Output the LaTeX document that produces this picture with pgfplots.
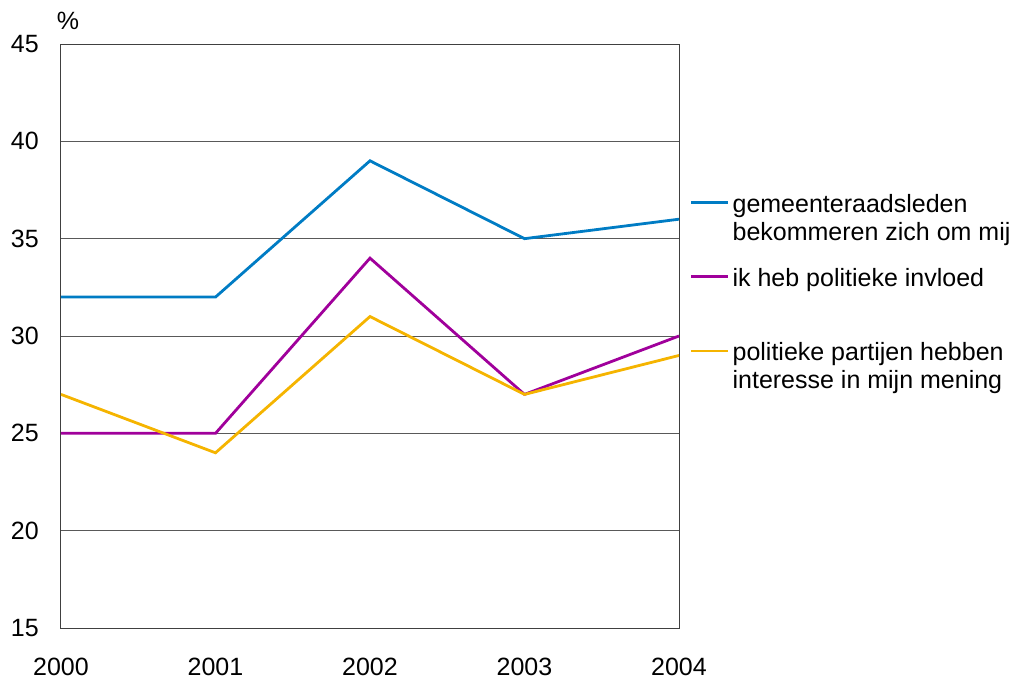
\documentclass[border=0pt]{standalone}
\usepackage{fontspec}
\setmainfont{Liberation Sans}
\usepackage{pgfplots}
\pgfplotsset{compat=1.18}
\definecolor{cblue}{RGB}{0,124,196}
\definecolor{cpurple}{RGB}{160,0,155}
\definecolor{corange}{RGB}{245,180,0}
\begin{document}
\begin{tikzpicture}
\begin{axis}[
  scale only axis,
  width=618pt, height=584pt,
  xmin=2000, xmax=2004, ymin=15, ymax=45,
  xtick={2000,2001,2002,2003,2004},
  ytick={15,20,25,30,35,40,45},
  xticklabels={2000,2001,2002,2003,2004},
  major tick length=0pt,
  tick style={draw=none},
  ymajorgrids,
  major grid style={black!65, line width=0.8pt},
  axis line style={black!75, line width=1pt},
  font=\fontsize{25}{28}\selectfont,
  /pgf/number format/assume math mode=true,
  yticklabel style={inner sep=0pt, anchor=east, xshift=-22pt, font=\fontsize{25}{28}\selectfont},
  xticklabel style={inner sep=0pt, anchor=north, yshift=-30pt, font=\fontsize{25}{28}\selectfont},
  legend cell align=left,
  legend style={
    at={(1,1)}, anchor=north west, xshift=11pt, yshift=-147pt,
    draw=none, fill=none, inner sep=0pt, outer sep=0pt,
    row sep=21pt, column sep=1pt,
    cells={anchor=base west, inner sep=0pt, align=left},
    font=\fontsize{25}{28}\selectfont,
  },
  legend image code/.code={\draw[#1, line width=2.6pt] (0pt,38pt) -- (37pt,38pt);},
]
\addplot[cblue, line width=2.8pt] coordinates {(2000,32) (2001,32) (2002,39) (2003,35) (2004,36)};
\addlegendentry{\strut gemeenteraadsleden\\\strut bekommeren zich om mij}
\addplot[cpurple, line width=2.8pt] coordinates {(2000,25) (2001,25) (2002,34) (2003,27) (2004,30)};
\addlegendentry{\strut ik heb politieke invloed\\\strut}
\addplot[corange, line width=2.8pt] coordinates {(2000,27) (2001,24) (2002,31) (2003,27) (2004,29)};
\addlegendentry{\strut politieke partijen hebben\\\strut interesse in mijn mening}
\end{axis}
\node[inner sep=0pt, font=\fontsize{25}{28}\selectfont] at (current axis.north west) [xshift=7pt, yshift=23pt] {\%};
\pgfresetboundingbox
\path (current axis.south west) ++(-61pt,-53pt) rectangle ++(1018pt,681pt);
\end{tikzpicture}
\end{document}
